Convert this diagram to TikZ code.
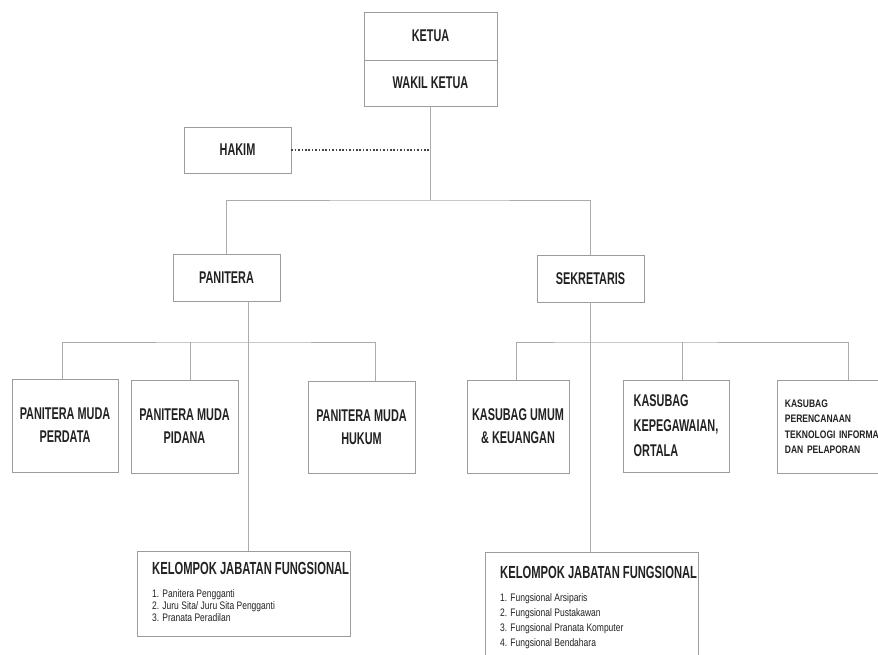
\documentclass[tikz,border=0pt]{standalone}
\usepackage{fontspec}
\setmainfont{Liberation Sans}
\newfontfamily\bignar{Liberation Sans}[FakeStretch=0.64]
\newfontfamily\smallnar{Liberation Sans}[FakeStretch=0.78]
\definecolor{boxgray}{HTML}{9C9C9C}
\definecolor{linegray}{HTML}{ABABAB}
\definecolor{txt}{HTML}{222222}
\definecolor{dotc}{HTML}{444444}
\begin{document}
\begin{tikzpicture}[x=1pt,y=-1pt,
  box/.style={draw=boxgray, line width=0.9pt, inner sep=0pt, align=center, text=txt,
    font=\bignar\bfseries\fontsize{17}{23}\selectfont},
  conn/.style={draw=linegray, line width=0.9pt},
  dotline/.style={draw=dotc, line width=1.8pt, dash pattern=on 1.5pt off 1.9pt},
  titletxt/.style={anchor=base west, inner sep=0pt, text=txt, font=\bignar\bfseries\fontsize{17.5}{20}\selectfont},
  itemtxt/.style={anchor=base west, inner sep=0pt, text=txt, font=\smallnar\fontsize{10.9}{12}\selectfont}]
\path[use as bounding box, clip] (0,0) rectangle (878,654);
\fill[white] (0,0) rectangle (878,654);

% top
\node[box, minimum width=133pt, minimum height=48pt] (ketua) at (430.5,36) {KETUA};
\node[box, minimum width=133pt, minimum height=46pt] (wakil) at (430.5,83) {WAKIL KETUA};
\node[box, minimum width=107pt, minimum height=46pt] (hakim) at (237.5,150) {HAKIM};

% level 2
\node[box, minimum width=107pt, minimum height=47pt] (panitera) at (226.5,277.5) {PANITERA};
\node[box, minimum width=107pt, minimum height=47pt] (sekretaris) at (590.5,278.5) {SEKRETARIS};

% level 3 left
\node[box, minimum width=106pt, minimum height=93pt] (pmperdata) at (65,425.5) {PANITERA MUDA\\PERDATA};
\node[box, minimum width=107pt, minimum height=93pt] (pmpidana) at (184.5,426.5) {PANITERA MUDA\\PIDANA};
\node[box, minimum width=107pt, minimum height=92pt] (pmhukum) at (361.5,427) {PANITERA MUDA\\HUKUM};

% level 3 right
\node[box, minimum width=102pt, minimum height=93pt] (kumum) at (518,426.5) {KASUBAG UMUM\\\& KEUANGAN};
\node[box, minimum width=106pt, minimum height=92pt, align=left,
  font=\bignar\bfseries\fontsize{17}{25}\selectfont] (kpeg) at (676,426) {KASUBAG\\KEPEGAWAIAN,\\ORTALA};
\node[box, anchor=west, minimum width=130pt, minimum height=93pt, align=left, text width=115pt,
  inner xsep=5pt, font=\smallnar\bfseries\fontsize{10.9}{15.5}\selectfont] (kperen) at (777,426.5)
  {KASUBAG\\PERENCANAAN\\TEKNOLOGI INFORMASI\\DAN PELAPORAN};

% functional groups
\node[box, anchor=north west, minimum width=213pt, minimum height=85pt] (kjf1) at (137,551) {};
\node[titletxt] (kjf1t) at (152,574) {KELOMPOK JABATAN FUNGSIONAL};
\node[itemtxt] (kjf1a) at (152,597) {1. Panitera Pengganti};
\node[itemtxt] (kjf1b) at (152,609) {2. Juru Sita/ Juru Sita Pengganti};
\node[itemtxt] (kjf1c) at (152,621) {3. Pranata Peradilan};

\node[box, anchor=north west, minimum width=213pt, minimum height=130pt] (kjf2) at (485,552) {};
\node[titletxt] (kjf2t) at (500,578) {KELOMPOK JABATAN FUNGSIONAL};
\node[itemtxt] (kjf2a) at (500,601) {1. Fungsional Arsiparis};
\node[itemtxt] (kjf2b) at (500,616) {2. Fungsional Pustakawan};
\node[itemtxt] (kjf2c) at (500,631) {3. Fungsional Pranata Komputer};
\node[itemtxt] (kjf2d) at (500,646) {4. Fungsional Bendahara};

% connectors
\coordinate (j0) at (430.5,200);
\draw[conn] (wakil.south) -- (j0);
\draw[conn] (panitera.north) |- (j0) -| (sekretaris.north);
\draw[dotline] (hakim.east) -- (hakim.east -| j0);

\coordinate (pbus) at (248,342);
\draw[conn] ([xshift=21.5pt]panitera.south) -- ([xshift=21.5pt]panitera.south |- kjf1.north);
\draw[conn] ([xshift=-3pt]pmperdata.north) |- (pbus) -| ([xshift=13.5pt]pmhukum.north);
\draw[conn] ([xshift=5.5pt]pmpidana.north) -- ([xshift=5.5pt]pmpidana.north |- pbus);

\coordinate (sbus) at (590.5,342);
\draw[conn] (sekretaris.south) -- (sekretaris.south |- kjf2.north);
\draw[conn] ([xshift=-2pt]kumum.north) |- (sbus) -| ([xshift=71pt]kperen.north west);
\draw[conn] ([xshift=6pt]kpeg.north) -- ([xshift=6pt]kpeg.north |- sbus);
\end{tikzpicture}
\end{document}
